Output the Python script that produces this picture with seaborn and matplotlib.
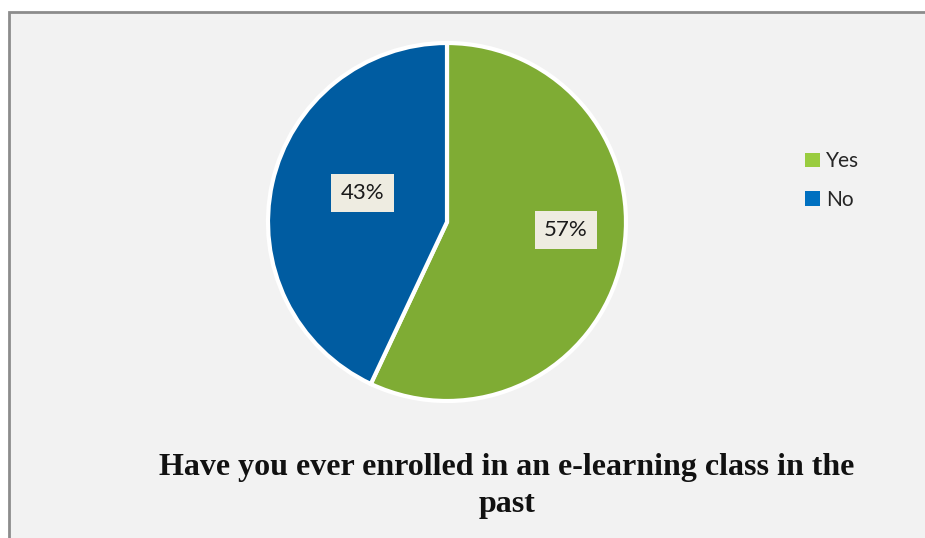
import matplotlib
matplotlib.use("Agg")
import matplotlib.pyplot as plt
import seaborn as sns
import numpy as np
from matplotlib.patches import Rectangle, Patch

# Survey responses
categories = ["Yes", "No"]
shares = [57, 43]
slice_colors = ["#7fac34", "#005ca1"]
legend_colors = ["#99cc3f", "#0070c0"]
title_text = "Have you ever enrolled in an e-learning class in the\npast"

sns.set_theme(style="white")
plt.rcParams["font.family"] = ["Lato", "DejaVu Sans"]

W, H = 925, 538
fig = plt.figure(figsize=(W / 100, H / 100), dpi=100, facecolor="white")

# Chart area panel with grey frame
panel = Rectangle((8.5 / W, -0.05), 1.1, 1 - 11.5 / H + 0.05,
                  transform=fig.transFigure, facecolor="#f2f2f2",
                  edgecolor="#8c8c8c", linewidth=2, zorder=-10)
fig.patches.append(panel)

# Pie axes: centre (447, 222) px, radius 179 px
cx, cy, r = 447, 222, 179
lim = 1.05
half = r * lim
ax = fig.add_axes([(cx - half) / W, 1 - (cy + half) / H, 2 * half / W, 2 * half / H])
ax.set_zorder(5)
ax.set_facecolor("none")
ax.axis("off")

wedges, texts, autotexts = ax.pie(
    shares, colors=slice_colors, startangle=90, counterclock=False,
    autopct=lambda p: f"{p:.0f}%", pctdistance=0.6,
    wedgeprops=dict(edgecolor="white", linewidth=3),
    textprops=dict(fontsize=16, color="#1a1a1a"),
)
ax.set_xlim(-lim, lim)
ax.set_ylim(-lim, lim)
ax.set_aspect("equal")

# Data label placement (polar offsets within each slice)
label_polar = [(-3.8, 0.665), (161.0, 0.50)]
for t, (ang, dist) in zip(autotexts, label_polar):
    a = np.deg2rad(ang)
    t.set_position((dist * np.cos(a), dist * np.sin(a)))
    t.set_bbox(dict(boxstyle="square,pad=0.42", facecolor="#eeece1", edgecolor="none"))

handles = [Patch(facecolor=c, edgecolor="none") for c in legend_colors]
fig.legend(handles, categories, loc="upper left", bbox_to_anchor=(797 / W, 1 - 143 / H),
           frameon=False, fontsize=15, handlelength=0.7, handleheight=0.7,
           handletextpad=0.3, labelspacing=0.9, borderaxespad=0)

fig.text(507 / W, 1 - 486 / H, title_text, ha="center", va="center",
         fontsize=23, fontweight="bold", family=["Liberation Serif", "DejaVu Serif"],
         color="#111111", linespacing=1.32)

fig.savefig("out.png", dpi=100, facecolor="white")
